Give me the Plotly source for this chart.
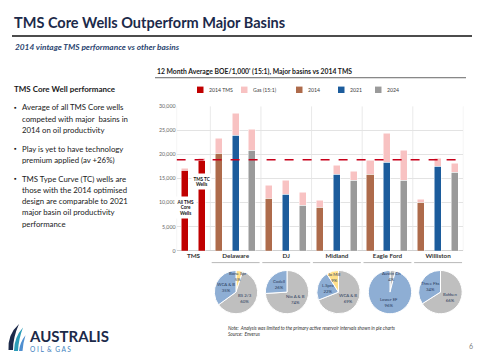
import math
import plotly.graph_objects as go

W, H = 480, 360
FONT = "Lato"

# ---------------- data ----------------
bar_names = ["All TMS Core Wells", "TMS TC Wells",
             "Delaware 2014", "Delaware 2021", "Delaware 2024",
             "DJ 2014", "DJ 2021", "DJ 2024",
             "Midland 2014", "Midland 2021", "Midland 2024",
             "Eagle Ford 2014", "Eagle Ford 2021", "Eagle Ford 2024",
             "Williston 2014", "Williston 2021", "Williston 2024"]
bar_series = ["2014 TMS", "2014 TMS",
              "2014", "2021", "2024", "2014", "2021", "2024",
              "2014", "2021", "2024", "2014", "2021", "2024",
              "2014", "2021", "2024"]
oil_boe = [16700, 18800, 20300, 23900, 20800, 10900, 11800, 9550,
           9100, 15900, 14700, 15900, 18350, 14550, 10050, 17550, 16350]
gas_boe = [350, 350, 3100, 4750, 4450, 2750, 2850, 2700,
           1350, 1850, 1900, 2850, 6000, 6250, 650, 1750, 1850]
tms_benchmark = 18900

groups = ["TMS", "Delaware", "DJ", "Midland", "Eagle Ford", "Williston"]
group_sizes = [2, 3, 3, 3, 3, 3]

y_ticks = [0, 5000, 10000, 15000, 20000, 25000, 30000]

legend_names = ["2014 TMS", "Gas (15:1)", "2014", "2021", "2024"]

pie_basins = ["Delaware", "DJ", "Midland", "Eagle Ford", "Williston"]
pie_labels = [["Bone Spr", "BS 2/3", "WCA & B"],
              ["Nio A & B", "Codell"],
              ["WCA & B", "L.Spra", "Jo Mill"],
              ["Austin Ch", "Lower EF"],
              ["Bakken", "Three Fks"]]
pie_values = [[5, 60, 35],
              [74, 26],
              [69, 22, 9],
              [4, 96],
              [66, 34]]
pie_kinds = [["y", "g", "b"], ["g", "b"], ["g", "b", "y"], ["g", "b"], ["g", "b"]]

# ---------------- styles ----------------
series_colors = {"2014 TMS": "#c00000", "2014": "#ae6b4b", "2021": "#1c5c9c",
                 "2024": "#9a9a9a", "Gas (15:1)": "#f8c2c2"}
pie_colors = {"y": "#ffe08a", "g": "#bfbfbf", "b": "#8eaed4"}
NAVY = "#1c2a4a"


def P(x):
    return x / W


def Q(y):
    return 1 - y / H


fig = go.Figure()

xs = list(range(len(bar_names)))
fig.add_trace(go.Bar(x=xs, y=oil_boe, width=0.42, name="Oil",
                     marker=dict(color=[series_colors[s] for s in bar_series],
                                 line=dict(color="white", width=0.5)),
                     hovertext=bar_names, showlegend=False))
fig.add_trace(go.Bar(x=xs, y=gas_boe, width=0.42, name="Gas (15:1)",
                     marker=dict(color=series_colors["Gas (15:1)"],
                                 line=dict(color="white", width=0.5)),
                     hovertext=bar_names, showlegend=False))

# group centres / edges
edges = [-0.5]
for s in group_sizes:
    edges.append(edges[-1] + s)
centres = [(edges[i] + edges[i + 1]) / 2 for i in range(len(groups))]

shapes = []
for e in edges:
    shapes.append(dict(type="line", xref="x", yref="y", x0=e, x1=e, y0=0, y1=30000,
                       line=dict(color="#e3e3e3", width=0.8), layer="below"))
for i in range(1, len(groups)):
    shapes.append(dict(type="line", xref="x", yref="paper", x0=edges[i] + 0.08,
                       x1=edges[i + 1] - 0.08, y0=Q(264), y1=Q(264),
                       line=dict(color="#a6a6a6", width=0.8)))
shapes.append(dict(type="line", xref="x", yref="y", x0=-0.5, x1=16.75,
                   y0=tms_benchmark, y1=tms_benchmark,
                   line=dict(color="#c8001a", width=1.7, dash="dash")))

# title rules
shapes.append(dict(type="line", xref="paper", yref="paper", x0=P(12), x1=P(472),
                   y0=Q(33.5), y1=Q(33.5), line=dict(color="#111111", width=1.4)))
shapes.append(dict(type="line", xref="paper", yref="paper", x0=P(155), x1=P(466),
                   y0=Q(76), y1=Q(76), line=dict(color="#404040", width=0.8)))

annotations = []


def txt(x, y, s, size, color="#222222", anchor="left", bold=False, italic=False,
        bg=None, family=FONT, yanchor="middle"):
    if bold:
        s = "<b>" + s + "</b>"
    if italic:
        s = "<i>" + s + "</i>"
    a = dict(x=P(x), y=Q(y), xref="paper", yref="paper", text=s, showarrow=False,
             xanchor=anchor, yanchor=yanchor,
             font=dict(family=family, size=size, color=color))
    if bg:
        a["bgcolor"] = bg
        a["borderpad"] = 1
    annotations.append(a)


# slide title
txt(12, 20, "TMS Core Wells Outperform Major Basins", 14.5, NAVY, bold=True)
txt(13, 44.5, "2014 vintage TMS performance vs other basins", 8.3, "#2b4570", bold=True, italic=True)

# left text
txt(12, 87.5, "TMS Core Well performance", 8, "#1a1a1a", bold=True)
bul = [(106, "Average of all TMS Core wells", True),
       (117.5, "competed with major  basins in", False),
       (129, "2014 on oil productivity", False),
       (148, "Play is yet to have technology", True),
       (159.5, "premium applied (av +26%)", False),
       (178.5, "TMS Type Curve (TC) wells are", True),
       (190, "those with the 2014 optimised", False),
       (201.5, "design are comparable to 2021", False),
       (213, "major basin oil productivity", False),
       (224.5, "performance", False)]
for y, s, b in bul:
    if b:
        txt(12, y, "▪", 6.5, "#1a1a1a")
    txt(20, y, s, 7.8, "#1a1a1a")

# chart title
txt(155, 70, "12 Month Average BOE/1,000' (15:1), Major basins vs 2014 TMS", 6.8, "#1a1a1a", bold=True)

# manual legend
leg_x = [197, 241, 296, 338, 375]
leg_cols = [series_colors["2014 TMS"], series_colors["Gas (15:1)"], series_colors["2014"],
            series_colors["2021"], series_colors["2024"]]
for lx, name, c in zip(leg_x, legend_names, leg_cols):
    shapes.append(dict(type="rect", xref="paper", yref="paper", x0=P(lx), x1=P(lx + 6.5),
                       y0=Q(91.5), y1=Q(85), fillcolor=c, line=dict(width=0)))
    txt(lx + 10, 88.3, name, 5.2, "#404040")

# TMS bar labels
annotations.append(dict(x=0, y=9000, xref="x", yref="y", text="All TMS<br>Core<br>Wells",
                        showarrow=False, bgcolor="white", borderpad=1.5,
                        font=dict(family=FONT, size=4.6, color="#111111", weight="bold")))
annotations.append(dict(x=1, y=14400, xref="x", yref="y", text="TMS TC<br>Wells",
                        showarrow=False, bgcolor="white", borderpad=1.5,
                        font=dict(family=FONT, size=4.6, color="#111111", weight="bold")))

# pies
pie_cx = [236, 287, 338.5, 390, 440.5]
pie_cy = 294
pie_r = 22
for i, basin in enumerate(pie_basins):
    cx = pie_cx[i]
    fig.add_trace(go.Pie(labels=pie_labels[i], values=pie_values[i], sort=False,
                         direction="clockwise", rotation=0, textinfo="none",
                         marker=dict(colors=[pie_colors[k] for k in pie_kinds[i]],
                                     line=dict(color="white", width=1)),
                         domain=dict(x=[P(cx - pie_r), P(cx + pie_r)],
                                     y=[Q(pie_cy + pie_r), Q(pie_cy - pie_r)]),
                         showlegend=False, name=basin))
    tot = sum(pie_values[i])
    acc = 0
    for lab, v in zip(pie_labels[i], pie_values[i]):
        mid = (acc + v / 2) / tot * 2 * math.pi
        acc += v
        k = 0.72 if v / tot < 0.12 else 0.5
        lx = cx + k * pie_r * math.sin(mid)
        ly = pie_cy - k * pie_r * math.cos(mid)
        txt(lx, ly, f"{lab}<br>{round(v / tot * 100)}%", 4.3, "#2a3b5c", anchor="center")

# note
txt(226, 330, "Note:  Analysis was limited to the primary active reservoir intervals shown in pie charts",
    4.7, "#333333", italic=True)
txt(226, 336.5, "Source:  Enverus", 4.7, "#333333", italic=True)
txt(475, 349, "6", 7, "#7f7f7f", anchor="right")

# logo
txt(27, 338.5, "AUSTRALIS", 15, NAVY, bold=True)
txt(28, 351.5, "O I L  &  G A S", 6.6, "#3d7fc0")


def path(pts_cmd):
    out = []
    for tok in pts_cmd:
        if isinstance(tok, str):
            out.append(tok)
        else:
            out.append(f"{P(tok[0]):.5f},{Q(tok[1]):.5f}")
    return " ".join(out)


blades = [
    (["M", (8.5, 353), "Q", (7.5, 337), (19, 326.5), "Q", (13, 340), (13, 353), "Z"], NAVY),
    (["M", (14, 354), "Q", (14, 340), (23, 330), "Q", (18.5, 342), (18, 354), "Z"], "#2b9cb8"),
    (["M", (19, 354), "Q", (20, 345), (25.5, 338), "Q", (23, 346), (22.5, 354), "Z"], "#4f8fd0"),
]
for cmd, col in blades:
    shapes.append(dict(type="path", xref="paper", yref="paper", path=path(cmd),
                       fillcolor=col, line=dict(width=0)))

fig.update_layout(
    width=W, height=H, autosize=False,
    margin=dict(l=0, r=0, t=0, b=0),
    paper_bgcolor="white", plot_bgcolor="white",
    barmode="stack", bargap=0,
    showlegend=False,
    font=dict(family=FONT),
    xaxis=dict(domain=[P(176.6), P(463.4)], range=[-0.5, 16.5],
               tickvals=centres, ticktext=["<b>" + g + "</b>" for g in groups],
               tickfont=dict(size=6.3, color="#333333"), ticks="", showgrid=False,
               zeroline=False, showline=False, fixedrange=True),
    yaxis=dict(domain=[Q(252), Q(105)], range=[0, 30000], tickvals=y_ticks,
               tickformat=",", tickfont=dict(size=5.3, color="#666666"),
               showgrid=True, gridcolor="#e3e3e3", gridwidth=0.8,
               zeroline=True, zerolinecolor="#d0d0d0", zerolinewidth=0.8,
               ticks="", showline=False, fixedrange=True),
    shapes=shapes, annotations=annotations,
)

fig.write_html("out.html", config={"displayModeBar": False},
               post_script="document.body.style.margin='0';document.body.style.overflow='hidden';")
